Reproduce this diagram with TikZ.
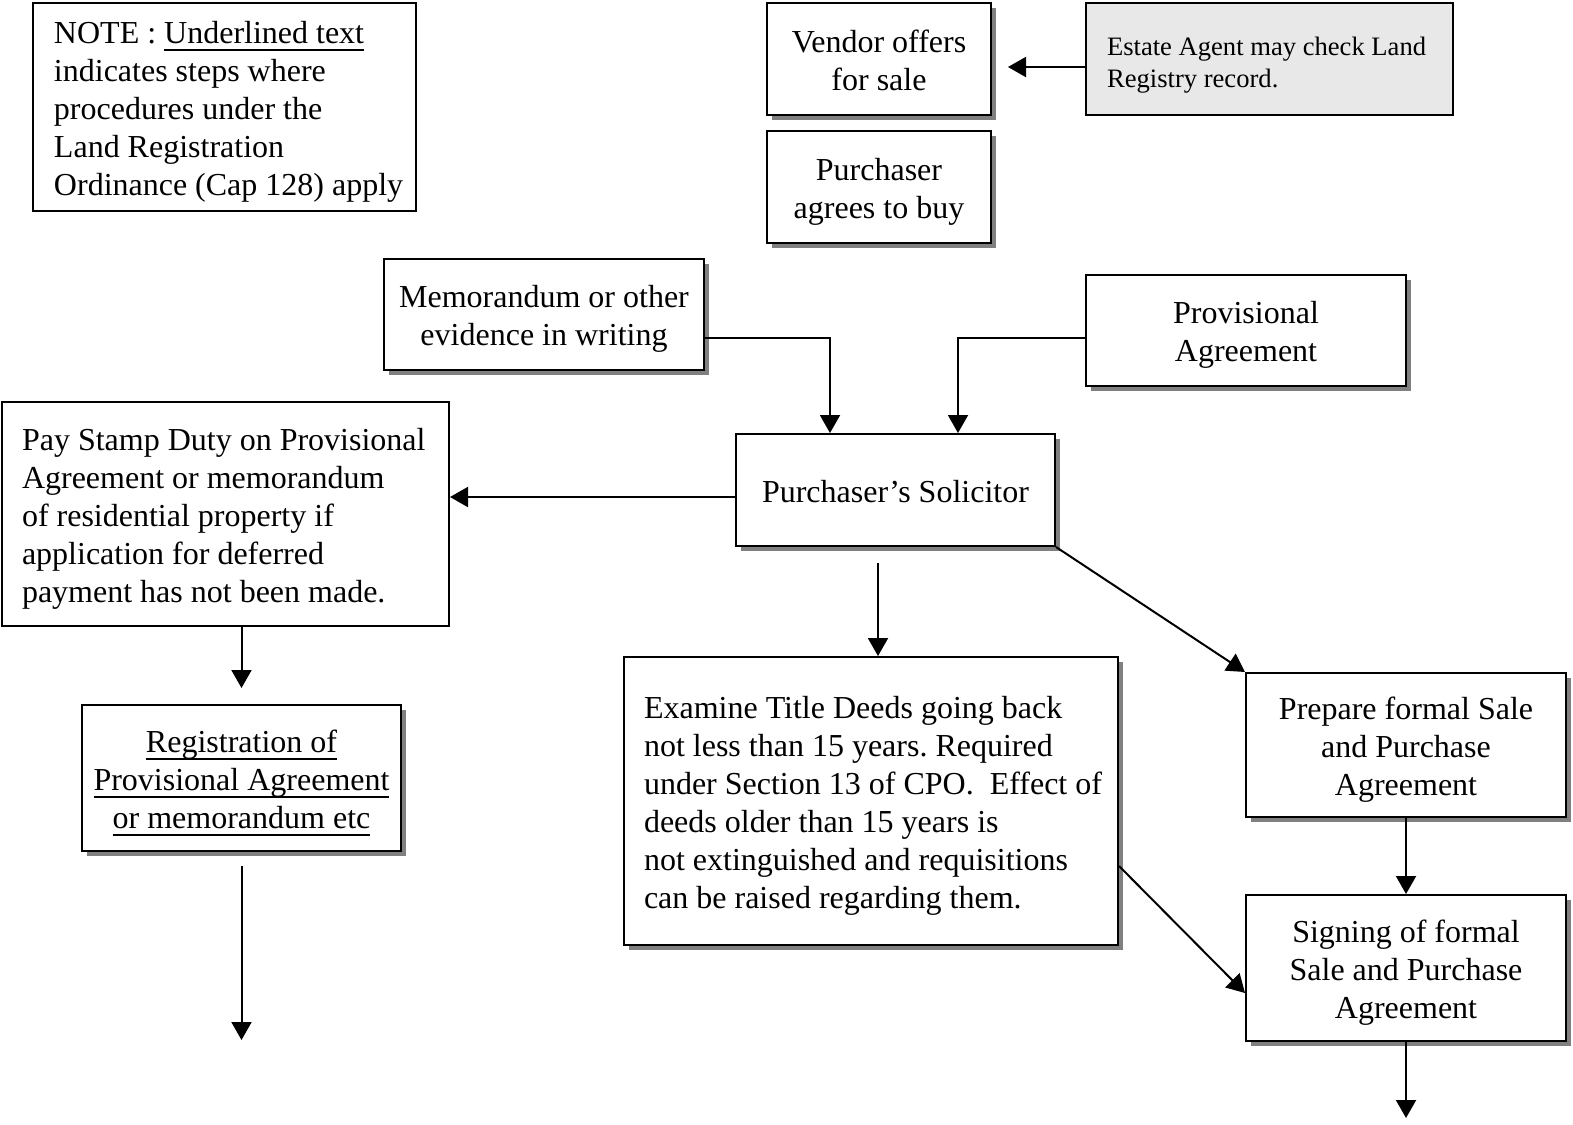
\documentclass[tikz,border=0pt]{standalone}
\usepackage{fontspec}
\setmainfont{Liberation Serif}
\usetikzlibrary{arrows.meta,shadows}
% struts that fix the height of a box's first line and the depth of its last one
\newcommand{\boxtop}{\rule{0pt}{16pt}}
\newcommand{\boxbot}{\rule[-4pt]{0pt}{0pt}}
% heavier underline set just below the descenders
\newcommand{\uln}[1]{\leavevmode\setbox0\hbox{#1}\rlap{\rule[-4pt]{\wd0}{1pt}}\box0}
\begin{document}
\frenchspacing
\begin{tikzpicture}[x=0.5pt,y=-0.5pt,
  box/.style={draw, line width=1pt, fill=white, inner sep=0pt, align=center,
    font=\fontsize{16}{19}\selectfont},
  shadowed/.style={box, drop shadow={shadow xshift=2.5pt, shadow yshift=-2.5pt,
    fill=black!50, opacity=1}},
  arr/.style={line width=1pt, -{Triangle[length=9pt,width=10pt]}}]
\useasboundingbox (0,0) rectangle (1573,1124);

% explanatory note
\node[box, align=flush left, minimum width=191.5pt, minimum height=104pt,
      inner xsep=10.5pt, text width=170.5pt] (note) at (224.5,107)
  {\boxtop\mbox{NOTE : \uln{Underlined text}}\\
   \mbox{indicates steps where}\\
   \mbox{procedures under the}\\
   \mbox{Land Registration}\\
   \mbox{Ordinance (Cap 128) apply}\boxbot};

% opening of the transaction
\node[shadowed, minimum width=112pt, minimum height=56pt] (vendor) at (879,59)
  {\boxtop Vendor offers\\for sale\boxbot};
\node[box, fill=black!9, align=flush left, minimum width=183.5pt, minimum height=56pt,
      inner xsep=10.5pt, text width=162.5pt, font=\fontsize{13.3}{16}\selectfont]
  (agent) at (1269.5,59)
  {\boxtop\mbox{Estate Agent may check Land}\\\mbox{Registry record.}\boxbot};
\node[shadowed, minimum width=112pt, minimum height=56pt] (buyer) at (879,187)
  {\boxtop Purchaser\\agrees to buy\boxbot};

% documents passed to the solicitor
\node[shadowed, minimum width=160pt, minimum height=55.5pt] (memo) at (544,314.5)
  {\boxtop Memorandum or other\\evidence in writing\boxbot};
\node[shadowed, minimum width=160pt, minimum height=55.5pt] (prov) at (1246,330.5)
  {\boxtop Provisional\\Agreement\boxbot};
\node[shadowed, minimum width=159.5pt, minimum height=56pt] (sol) at (895.5,490)
  {\boxtop Purchaser’s Solicitor\boxbot};

% stamp duty and registration branch
\node[box, align=flush left, minimum width=223.5pt, minimum height=112pt,
      inner xsep=10pt, text width=203.5pt] (pay) at (225.5,514)
  {\boxtop\mbox{Pay Stamp Duty on Provisional}\\
   \mbox{Agreement or memorandum}\\
   \mbox{of residential property if}\\
   \mbox{application for deferred}\\
   \mbox{payment has not been made.}\boxbot};
\node[shadowed, minimum width=159.5pt, minimum height=73pt] (reg) at (241.5,778)
  {\boxtop\uln{Registration of}\\
   \uln{Provisional Agreement}\\
   \uln{or memorandum etc}\boxbot};
\coordinate (regend) at (241.5,1040);

% title investigation
\node[shadowed, align=flush left, minimum width=247pt, minimum height=144pt,
      inner xsep=10pt, text width=227pt] (exam) at (871,801)
  {\boxtop\mbox{Examine Title Deeds going back}\\
   \mbox{not less than 15 years. Required}\\
   \mbox{under Section 13 of CPO.\ \ Effect of}\\
   \mbox{deeds older than 15 years is}\\
   \mbox{not extinguished and requisitions}\\
   \mbox{can be raised regarding them.}\boxbot};

% formal agreement
\node[shadowed, minimum width=160pt, minimum height=72pt] (prep) at (1406,745)
  {\boxtop Prepare formal Sale\\and Purchase\\Agreement\boxbot};
\node[shadowed, minimum width=160pt, minimum height=73pt] (sign) at (1406,968)
  {\boxtop Signing of formal\\Sale and Purchase\\Agreement\boxbot};
\coordinate (signend) at (1406,1118);

% connectors
\draw[arr] ([yshift=-4pt]agent.west) -- ([yshift=-4pt,xshift=8pt]vendor.east);
\draw[arr] ([yshift=-11.75pt]memo.east) -| ([xshift=-32.75pt]sol.north);
\draw[arr] ([yshift=-3.75pt]prov.west) -| ([xshift=31.25pt]sol.north);
\draw[arr] ([yshift=-3.5pt]sol.west) -- ([yshift=-3.5pt]sol.west -| pay.east);
\draw[arr, shorten >=8pt] (reg.north |- pay.south) -- (reg.north);
\draw[arr, shorten <=7pt] (reg.south) -- (regend);
\draw[arr, shorten <=8pt] ([xshift=-8.75pt]sol.south) -- ([xshift=-8.75pt]sol.south |- exam.north);
\draw[arr] (sol.south east) -- (prep.north west);
\draw[arr] (prep.south) -- (sign.north);
\draw[arr] ([yshift=-32.5pt]exam.east) -- ([yshift=-12.5pt]sign.west);
\draw[arr] (sign.south) -- (signend);
\end{tikzpicture}
\end{document}
